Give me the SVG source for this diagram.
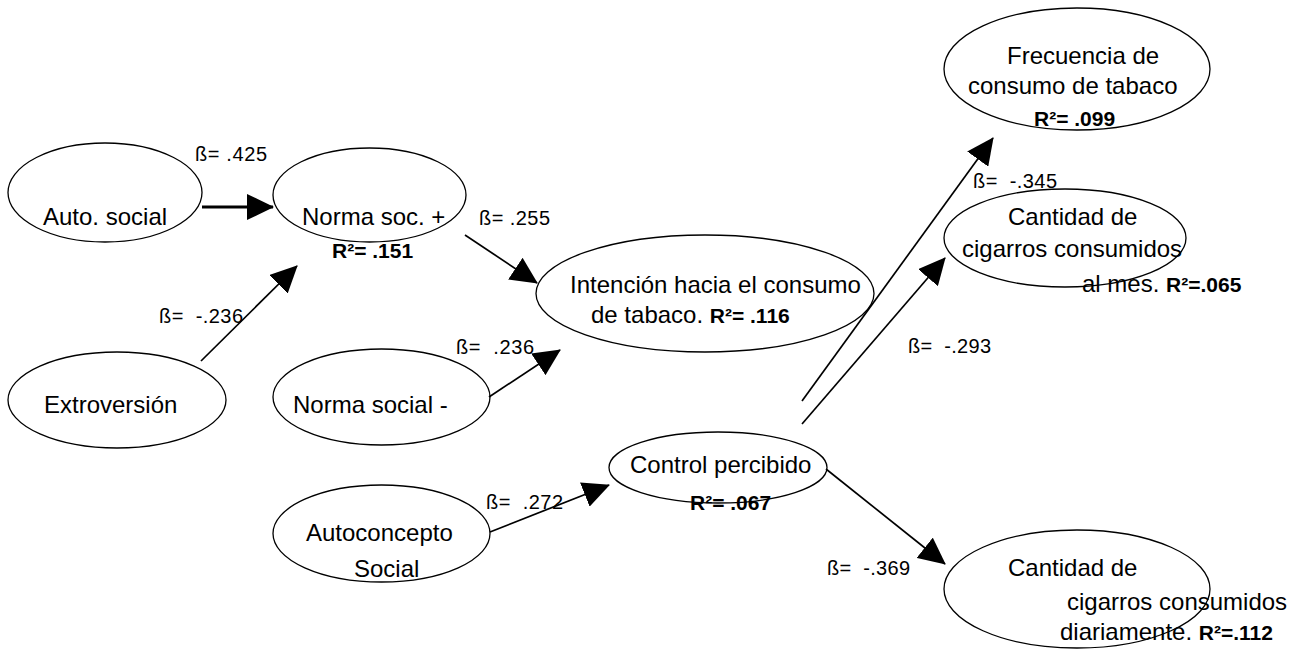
<svg xmlns="http://www.w3.org/2000/svg" width="1299" height="650" viewBox="0 0 1299 650">
  <style>
    .node ellipse { fill: none; stroke: #000; stroke-width: 1.3; }
    text { font-family: "Liberation Sans", Arial, Helvetica, sans-serif; fill: #000; }
    .t { font-size: 24px; }
    .r2 { font-size: 21px; font-weight: bold; }
    .lbl { font-size: 20px; }
    .edge { stroke: #000; stroke-width: 1.7; fill: none; marker-end: url(#head); }
    .edge.thick { stroke-width: 3; }
  </style>
  <defs>
    <marker id="head" viewBox="0 0 27 26" refX="26" refY="13" markerWidth="27" markerHeight="26" markerUnits="userSpaceOnUse" orient="auto">
      <path d="M0,0 L27,13 L0,26 z" fill="#000"/>
    </marker>
  </defs>

  <rect width="1299" height="650" fill="#fff"/>

  <!-- path connectors -->
  <g id="connectors">
    <line class="edge thick" x1="202" y1="207" x2="273" y2="207"/>
    <line class="edge" x1="201" y1="361" x2="297" y2="266"/>
    <line class="edge" x1="465" y1="235" x2="537" y2="283"/>
    <line class="edge" x1="489" y1="397" x2="560" y2="350"/>
    <line class="edge" x1="490" y1="532" x2="609" y2="485"/>
    <line class="edge" x1="802" y1="401" x2="993" y2="138"/>
    <line class="edge" x1="802" y1="424" x2="945" y2="258"/>
    <line class="edge" x1="826" y1="469" x2="945" y2="564"/>
  </g>

  <!-- path coefficients -->
  <g id="coefficients" class="lbl">
    <text x="195" y="161" textLength="72">ß= .425</text>
    <text x="479" y="225" textLength="71">ß= .255</text>
    <text x="159" y="323" textLength="84" xml:space="preserve">ß=  -.236</text>
    <text x="456" y="354" textLength="78" xml:space="preserve">ß=  .236</text>
    <text x="486" y="509" textLength="77" xml:space="preserve">ß=  .272</text>
    <text x="973" y="188" textLength="84" xml:space="preserve">ß=  -.345</text>
    <text x="908" y="353" textLength="83" xml:space="preserve">ß=  -.293</text>
    <text x="827" y="575" textLength="83" xml:space="preserve">ß=  -.369</text>
  </g>

  <g id="auto-social" class="node">
    <ellipse cx="105" cy="192.5" rx="97" ry="49.5"/>
    <text class="t" x="43" y="225">Auto. social</text>
  </g>

  <g id="norma-pos" class="node">
    <ellipse cx="369.5" cy="195" rx="96.5" ry="47"/>
    <text class="t" x="302" y="225">Norma soc. +</text>
    <text class="r2" x="332" y="258">R²= .151</text>
  </g>

  <g id="extroversion" class="node">
    <ellipse cx="117" cy="400" rx="109" ry="48"/>
    <text class="t" x="44" y="413">Extroversión</text>
  </g>

  <g id="norma-neg" class="node">
    <ellipse cx="381.5" cy="397" rx="108.5" ry="48"/>
    <text class="t" x="293" y="413">Norma social -</text>
  </g>

  <g id="intencion" class="node">
    <ellipse cx="705" cy="293.5" rx="169" ry="58.5"/>
    <text class="t" x="570" y="293">Intención hacia el consumo</text>
    <text x="591" y="323"><tspan class="t">de tabaco. </tspan><tspan class="r2">R²= .116</tspan></text>
  </g>

  <g id="control" class="node">
    <ellipse cx="718" cy="467.5" rx="109" ry="35.5"/>
    <text class="t" x="630" y="473">Control percibido</text>
    <text class="r2" x="690" y="510">R²= .067</text>
  </g>

  <g id="autoconcepto" class="node">
    <ellipse cx="381.5" cy="533.5" rx="108.5" ry="48.5"/>
    <text class="t" x="306" y="541">Autoconcepto</text>
    <text class="t" x="354" y="577">Social</text>
  </g>

  <g id="frecuencia" class="node">
    <ellipse cx="1077" cy="69" rx="133" ry="61"/>
    <text class="t" x="1007" y="64">Frecuencia de</text>
    <text class="t" x="968" y="94">consumo de tabaco</text>
    <text class="r2" x="1034" y="126">R²= .099</text>
  </g>

  <g id="cantidad-mes" class="node">
    <ellipse cx="1065" cy="238" rx="121" ry="49"/>
    <text class="t" x="1008" y="225">Cantidad de</text>
    <text class="t" x="962" y="257">cigarros consumidos</text>
    <text x="1082" y="292"><tspan class="t">al mes. </tspan><tspan class="r2">R²=.065</tspan></text>
  </g>

  <g id="cantidad-dia" class="node">
    <ellipse cx="1077" cy="589" rx="133" ry="59"/>
    <text class="t" x="1008" y="576">Cantidad de</text>
    <text class="t" x="1067" y="610">cigarros consumidos</text>
    <text x="1060" y="640"><tspan class="t">diariamente. </tspan><tspan class="r2">R²=.112</tspan></text>
  </g>
</svg>
